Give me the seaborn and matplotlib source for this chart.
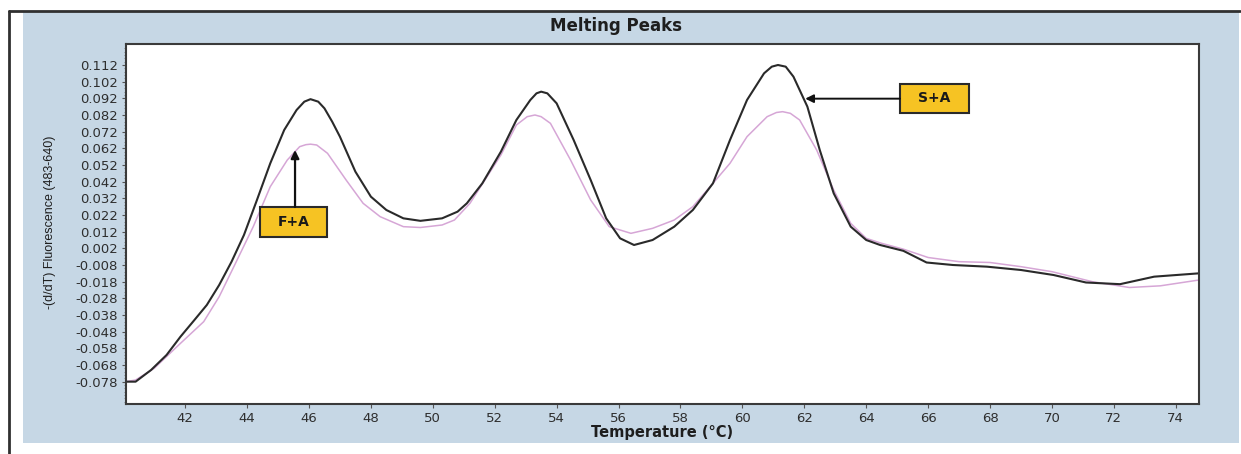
import numpy as np
import pandas as pd
import matplotlib
matplotlib.use("Agg")
import matplotlib.pyplot as plt
from matplotlib.patches import Rectangle
from matplotlib.lines import Line2D
import seaborn as sns

# Melting curve derivative for the S+A sample
sa_temp = [40.1, 40.4, 40.9, 41.4, 41.85, 42.3, 42.7, 43.1, 43.5, 43.9, 44.3, 44.75,
           45.2, 45.6, 45.85, 46.05, 46.3, 46.5, 46.75, 47.0, 47.5, 48.0, 48.5, 49.05,
           49.6, 50.3, 50.8, 51.1, 51.6, 52.2, 52.7, 53.15, 53.35, 53.5, 53.7, 54.0,
           54.55, 55.1, 55.6, 56.05, 56.5, 57.1, 57.8, 58.4, 59.05, 59.6, 60.15, 60.7,
           60.95, 61.15, 61.4, 61.65, 62.1, 62.5, 62.95, 63.5, 64.0, 64.45, 65.2, 65.95,
           66.8, 67.9, 69.0, 70.05, 71.1, 72.2, 73.3, 74.75]
sa_value = [-0.078, -0.078, -0.071, -0.062, -0.051, -0.041, -0.032, -0.020, -0.006, 0.010,
            0.030, 0.053, 0.073, 0.085, 0.090, 0.0915, 0.090, 0.086, 0.078, 0.069, 0.048,
            0.033, 0.025, 0.020, 0.0185, 0.020, 0.024, 0.029, 0.041, 0.060, 0.079, 0.091,
            0.095, 0.096, 0.095, 0.089, 0.067, 0.043, 0.020, 0.008, 0.004, 0.007, 0.015,
            0.025, 0.041, 0.067, 0.091, 0.107, 0.111, 0.112, 0.111, 0.105, 0.087, 0.061,
            0.035, 0.015, 0.007, 0.004, 0.0005, -0.0065, -0.008, -0.009, -0.011, -0.014,
            -0.0185, -0.0195, -0.015, -0.013]

# Melting curve derivative for the F+A sample
fa_temp = [40.1, 40.4, 41.0, 41.85, 42.6, 43.1, 43.6, 44.2, 44.75, 45.3, 45.7, 45.9,
           46.05, 46.25, 46.6, 47.2, 47.75, 48.3, 49.05, 49.6, 50.3, 50.7, 51.2, 52.2,
           52.7, 53.05, 53.3, 53.5, 53.8, 54.45, 55.1, 55.7, 56.4, 57.1, 57.8, 58.4,
           59.05, 59.6, 60.15, 60.8, 61.1, 61.3, 61.55, 61.85, 62.4, 62.95, 63.5, 64.0,
           64.5, 65.2, 66.0, 67.0, 68.0, 69.0, 70.0, 71.3, 72.5, 73.5, 74.75]
fa_value = [-0.078, -0.077, -0.070, -0.055, -0.042, -0.027, -0.008, 0.015, 0.039, 0.055,
            0.063, 0.0642, 0.0645, 0.064, 0.059, 0.043, 0.029, 0.021, 0.015, 0.0145,
            0.016, 0.019, 0.029, 0.058, 0.076, 0.081, 0.082, 0.081, 0.077, 0.055, 0.031,
            0.015, 0.011, 0.014, 0.019, 0.027, 0.041, 0.053, 0.069, 0.081, 0.0835, 0.084,
            0.083, 0.079, 0.061, 0.037, 0.017, 0.008, 0.005, 0.0015, -0.0035, -0.006,
            -0.0065, -0.009, -0.012, -0.018, -0.0215, -0.0205, -0.017]

y_ticks = [0.112, 0.102, 0.092, 0.082, 0.072, 0.062, 0.052, 0.042, 0.032, 0.022, 0.012,
           0.002, -0.008, -0.018, -0.028, -0.038, -0.048, -0.058, -0.068, -0.078]
x_ticks = [42, 44, 46, 48, 50, 52, 54, 56, 58, 60, 62, 64, 66, 68, 70, 72, 74]

df = pd.concat([
    pd.DataFrame({"Temperature": sa_temp, "value": sa_value, "sample": "S+A"}),
    pd.DataFrame({"Temperature": fa_temp, "value": fa_value, "sample": "F+A"}),
], ignore_index=True)

sns.set_theme(style="white")
plt.rcParams["font.family"] = ["DejaVu Sans"]

W, H = 1241, 454
fig = plt.figure(figsize=(W / 100, H / 100), dpi=100)
fig.patch.set_facecolor("white")

panel_col = "#C6D7E5"
fig.patches.append(Rectangle((23 / W, 1 - 443 / H), (1239 - 23) / W, (443 - 11) / H,
                             transform=fig.transFigure, facecolor=panel_col,
                             edgecolor="none", zorder=-10))
fig.lines.append(Line2D([9 / W, 1240 / W], [1 - 11 / H, 1 - 11 / H],
                        transform=fig.transFigure, color="#303030", lw=2))
fig.lines.append(Line2D([9 / W, 9 / W], [0, 1 - 11 / H],
                        transform=fig.transFigure, color="#303030", lw=2))

ax = fig.add_axes([126 / W, 1 - 404 / H, (1199 - 126) / W, (404 - 43.5) / H])
ax.set_facecolor("white")

sns.lineplot(data=df, x="Temperature", y="value", hue="sample",
             hue_order=["F+A", "S+A"], palette={"S+A": "#2a2a2a", "F+A": "#D6A6D6"},
             sort=False, estimator=None, legend=False, ax=ax)
for line, lw in zip(ax.lines, [1.1, 1.5]):
    line.set_linewidth(lw)
    line.set_solid_joinstyle("round")

ax.set_xlim(40.09, 74.75)
ax.set_ylim(-0.0914, 0.1249)
ax.set_xticks(x_ticks)
ax.set_yticks(y_ticks)
ax.set_yticklabels([f"{t:.3f}" for t in y_ticks])
ax.set_yticks(np.arange(-0.090, 0.124, 0.002), minor=True)
ax.tick_params(axis="both", which="major", direction="out", length=3, width=0.8,
               color="#555555", labelsize=9.5, labelcolor="#2e2e2e", pad=3,
               left=True, bottom=True)
ax.tick_params(axis="y", which="minor", direction="out", length=1.8, width=0.6,
               color="#777777", left=True)
for sp in ax.spines.values():
    sp.set_color("#3a3a3a")
    sp.set_linewidth(1.5)

ax.set_xlabel("Temperature (°C)", fontsize=10.5, fontweight="bold", color="#1e1e1e",
              labelpad=0)
ax.set_ylabel("")
fig.text(50 / W, 1 - 222 / H, "-(d/dT) Fluorescence (483-640)", rotation=90,
         ha="center", va="center", fontsize=9, family="Liberation Sans",
         color="#1e1e1e")
fig.text(616 / W, 1 - 26 / H, "Melting Peaks", ha="center", va="center",
         fontsize=12, fontweight="bold", color="#1e1e1e")

# Labelled boxes with arrows pointing at each sample's curve
box_fc = "#F6C323"
ax.add_patch(Rectangle((44.42, 0.0088), 46.59 - 44.42, 0.0268 - 0.0088,
                       facecolor=box_fc, edgecolor="#2a2a2a", lw=1.5, zorder=5))
ax.text((44.42 + 46.59) / 2, (0.0088 + 0.0268) / 2, "F+A", ha="center", va="center",
        fontsize=10, fontweight="bold", color="#1a1a1a", zorder=6)
ax.annotate("", xy=(45.55, 0.061), xytext=(45.55, 0.0268),
            arrowprops=dict(arrowstyle="-|>", color="#111111", lw=1.6,
                            mutation_scale=12, shrinkA=0, shrinkB=0), zorder=6)

ax.add_patch(Rectangle((65.09, 0.0832), 67.32 - 65.09, 0.1006 - 0.0832,
                       facecolor=box_fc, edgecolor="#2a2a2a", lw=1.5, zorder=5))
ax.text((65.09 + 67.32) / 2, (0.0832 + 0.1006) / 2, "S+A", ha="center", va="center",
        fontsize=10, fontweight="bold", color="#1a1a1a", zorder=6)
ax.annotate("", xy=(62.03, 0.0918), xytext=(65.09, 0.0918),
            arrowprops=dict(arrowstyle="-|>", color="#111111", lw=1.4,
                            mutation_scale=12, shrinkA=0, shrinkB=0), zorder=6)

fig.savefig("out.png", dpi=100, facecolor=fig.get_facecolor())
